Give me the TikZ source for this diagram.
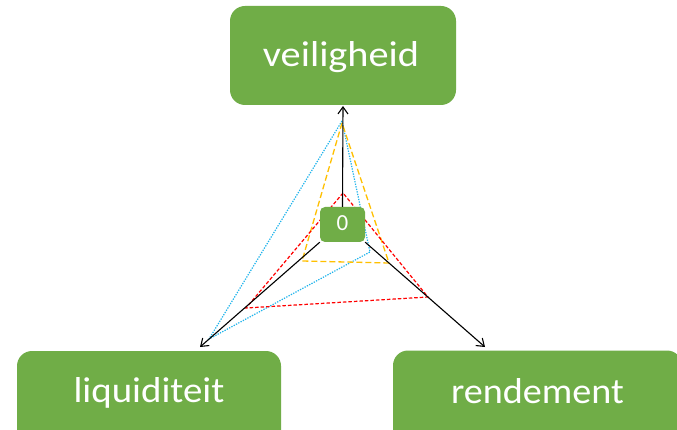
\documentclass[tikz,border=0pt]{standalone}
\usepackage{fontspec}
\setmainfont{Carlito}
\usetikzlibrary{arrows.meta}
\definecolor{boxgreen}{HTML}{70AD47}
\definecolor{dotblue}{HTML}{1FB4EC}
\definecolor{dashorange}{HTML}{FFC000}
\definecolor{dashred}{HTML}{FF0000}
\tikzset{
  bigbox/.style={fill=boxgreen, draw=none, rounded corners=15pt, inner sep=0pt},
  bigtext/.style={text=white, inner sep=0pt, anchor=base},
  zerobox/.style={fill=boxgreen, draw=none, rounded corners=5pt,
    minimum width=45pt, minimum height=35pt, inner sep=0pt},
  axis/.style={draw=black, line width=1.1pt, -{Straight Barb[length=7pt,width=10pt]}},
  blueline/.style={draw=dotblue, line width=1.2pt, dash pattern=on 1.3pt off 1.3pt},
  orangeline/.style={draw=dashorange, line width=1.3pt, dash pattern=on 6pt off 3pt},
  redline/.style={draw=dashred, line width=1.2pt, dash pattern=on 3.5pt off 2pt}
}
\begin{document}
\begin{tikzpicture}[x=1pt,y=-1pt]
\clip (0,0) rectangle (677,430);
\fill[white] (0,0) rectangle (677,430);
% main boxes
\node[bigbox, minimum width=226pt, minimum height=99pt] (veil) at (343,55.5) {};
\node[bigbox, minimum width=264pt, minimum height=99pt] (liq) at (149,400.5) {};
\node[bigbox, minimum width=289pt, minimum height=99pt] (rend) at (537.5,400) {};
\node[bigtext, font=\fontsize{36}{40}\selectfont] (veilt) at (341,66.7) {\scalebox{1.12}[1]{veiligheid}};
\node[bigtext, font=\fontsize{36}{40}\selectfont] (liqt) at (149,402.7) {\scalebox{1.08}[1]{liquiditeit}};
\node[bigtext, font=\fontsize{36}{40}\selectfont] (rendt) at (537.5,403) {\scalebox{1.06}[1]{rendement}};
% polygon vertices
\coordinate (bT) at (342,121);
\coordinate (bL) at (209,339);
\coordinate (bR) at (370,252);
\coordinate (oT) at (342,123);
\coordinate (oL) at (302,261);
\coordinate (oR) at (389,263);
\coordinate (rT) at (343,193);
\coordinate (rL) at (246,308);
\coordinate (rR) at (428,297);
\draw[blueline] (bT) -- (bL) -- (bR) -- cycle;
\draw[orangeline] (oT) -- (oL) -- (oR) -- cycle;
\draw[redline] (rT) -- (rL) -- (rR) -- cycle;
% center box
\node[zerobox] (zero) at (342.5,224.5) {};
\node[bigtext, font=\fontsize{23}{26}\selectfont] (zerot) at (342.5,231) {0};
% axis tips
\coordinate (tipV) at (343,106);
\coordinate (tipL) at (200,347);
\coordinate (tipR) at (485,347);
\draw[axis] (zero.north) -- (tipV);
\draw[axis] (zero.south west) -- (tipL);
\draw[axis] (zero.south east) -- (tipR);
\end{tikzpicture}
\end{document}
